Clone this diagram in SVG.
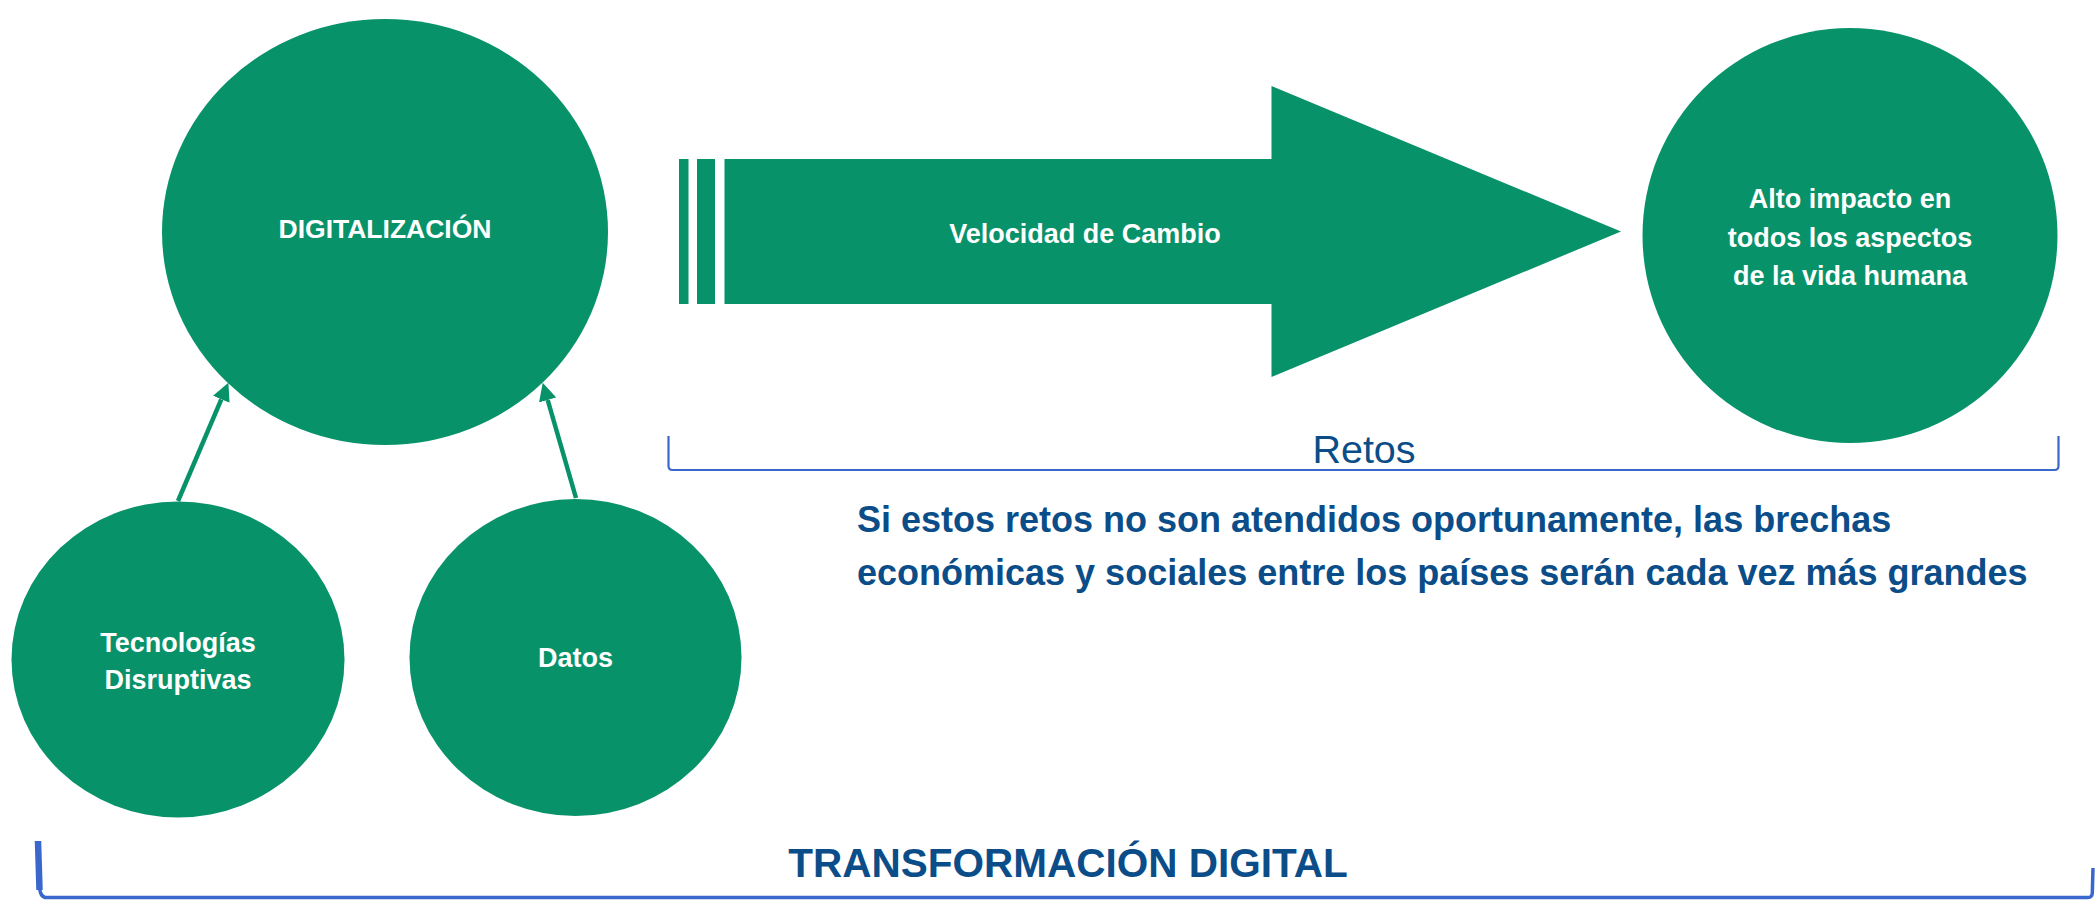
<svg xmlns="http://www.w3.org/2000/svg" width="2095" height="901" viewBox="0 0 2095 901">
<style>
.node{fill:#08926A;}
.wt{fill:#FFFFFF;font-family:"Liberation Sans",Arial,sans-serif;font-weight:bold;font-size:27px;text-anchor:middle;}
.bt{fill:#0B4D88;font-family:"Liberation Sans",Arial,sans-serif;}
.brk{fill:none;stroke:#3A67CC;stroke-linecap:butt;stroke-linejoin:round;}
.conn{fill:none;stroke:#08926A;stroke-width:4.5;}
</style>
<defs>
<marker id="ah" markerUnits="userSpaceOnUse" viewBox="0 0 18 18" refX="0" refY="9" markerWidth="18" markerHeight="18" orient="auto">
<path d="M0,0 L18,9 L0,18 Z" fill="#08926A"/>
</marker>
</defs>
<rect width="2095" height="901" fill="#FFFFFF"/>

<g id="digitalizacion">
<ellipse class="node" cx="385" cy="232" rx="223" ry="213"/>
<text class="wt" x="385" y="237.5" style="font-size:26.5px">DIGITALIZACIÓN</text>
</g>

<g id="tecnologias">
<ellipse class="node" cx="178" cy="659.5" rx="166.5" ry="158"/>
<text class="wt" x="178" y="651.5">Tecnologías</text>
<text class="wt" x="178" y="689">Disruptivas</text>
</g>

<g id="datos">
<ellipse class="node" cx="575.5" cy="657.5" rx="166" ry="158.5"/>
<text class="wt" x="575.5" y="667">Datos</text>
</g>

<g id="velocidad">
<rect class="node" x="679" y="159" width="9.5" height="145"/>
<rect class="node" x="697" y="159" width="18" height="145"/>
<path class="node" d="M724.5,159 L1271.5,159 L1271.5,86 L1621,231.5 L1271.5,377 L1271.5,304 L724.5,304 Z"/>
<text class="wt" x="1085" y="242.5">Velocidad de Cambio</text>
</g>

<g id="impacto">
<circle class="node" cx="1850" cy="235.5" r="207.5"/>
<text class="wt" x="1850" y="208">Alto impacto en</text>
<text class="wt" x="1850" y="246.5">todos los aspectos</text>
<text class="wt" x="1850" y="285">de la vida humana</text>
</g>

<g id="retos">
<path class="brk" stroke-width="2.2" d="M668.5,436 L668.5,466 Q668.5,470 672.5,470 L2054.5,470 Q2058.5,470 2058.5,466 L2058.5,436"/>
<text class="bt" x="1364" y="463" text-anchor="middle" style="font-size:39.5px">Retos</text>
</g>

<g id="nota">
<text class="bt" x="857" y="531.5" style="font-size:36px;font-weight:bold">Si estos retos no son atendidos oportunamente, las brechas</text>
<text class="bt" x="857" y="585" style="font-size:36px;font-weight:bold">económicas y sociales entre los países serán cada vez más grandes</text>
</g>

<g id="transformacion">
<path class="brk" stroke-width="6.5" d="M38,841 L39.5,890"/>
<path class="brk" stroke-width="3.5" d="M39,880 C39.5,890 40,896 45,897.5 L2088,897.5 Q2092,897.5 2092.3,893 L2093,868"/>
<text class="bt" x="1068" y="877" text-anchor="middle" style="font-size:40.5px;font-weight:bold">TRANSFORMACIÓN DIGITAL</text>
</g>

<g id="connectors">
<line class="conn" x1="178" y1="501" x2="221.3" y2="399.3" marker-end="url(#ah)"/>
<line class="conn" x1="576" y1="498" x2="547.7" y2="400" marker-end="url(#ah)"/>
</g>
</svg>
